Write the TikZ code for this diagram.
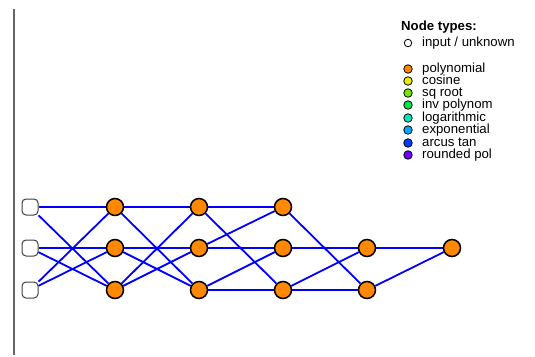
\documentclass[tikz,border=0pt]{standalone}
\usepackage{fontspec}
\setmainfont{Liberation Sans}
\usepackage{tikz}
\usetikzlibrary{backgrounds}

\definecolor{polycol}{RGB}{255,136,0}
\definecolor{coscol}{RGB}{235,235,0}
\definecolor{sqrtcol}{RGB}{120,230,0}
\definecolor{invcol}{RGB}{0,230,70}
\definecolor{logcol}{RGB}{0,230,190}
\definecolor{expcol}{RGB}{0,170,255}
\definecolor{atancol}{RGB}{0,60,255}
\definecolor{roundcol}{RGB}{110,0,255}

\begin{document}
\begin{tikzpicture}[x=1pt, y=-1pt,
        inp/.style={draw=black!75, fill=white, rounded corners=4pt, minimum size=16pt, inner sep=0pt, line width=1pt},
        poly/.style={draw, circle, fill=polycol, minimum size=17pt, inner sep=0pt, line width=1.5pt},
        link/.style={blue, line width=1.8pt},
        key/.style={draw, circle, minimum size=8.5pt, inner sep=0pt, line width=0.8pt},
        keytext/.style={anchor=west, inner sep=0pt, text height=8pt, text depth=1.5pt, font=\fontsize{13.2}{14}\selectfont}]
    \useasboundingbox (0,0) rectangle (535,356);
    \draw[black!60, line width=1.3pt] (14,9) -- (14,355);

    \draw
        ( 30, 207) node[inp](in1){}
        ( 30, 248) node[inp](in2){}
        ( 30, 290) node[inp](in3){}
        (115, 207) node[poly](a1){}
        (115, 248) node[poly](a2){}
        (115, 290) node[poly](a3){}
        (199, 207) node[poly](b1){}
        (199, 248) node[poly](b2){}
        (199, 290) node[poly](b3){}
        (283, 207) node[poly](c1){}
        (283, 248) node[poly](c2){}
        (283, 290) node[poly](c3){}
        (367, 248) node[poly](d2){}
        (367, 290) node[poly](d3){}
        (452, 248) node[poly](out){}
    ;
    \begin{scope}[on background layer]
    \draw [link] (in1) edge (a1) (in1) edge (a3);
    \draw [link] (in2) edge (a2) (in2) edge (a3);
    \draw [link] (in3) edge (a1) (in3) edge (a2);
    \draw [link] (a1) edge (b1) (a1) edge (b3);
    \draw [link] (a2) edge (b2) (a2) edge (b3);
    \draw [link] (a3) edge (b1) (a3) edge (b2);
    \draw [link] (b1) edge (c1) (b1) edge (c3);
    \draw [link] (b2) edge (c1) (b2) edge (c2);
    \draw [link] (b3) edge (c2) (b3) edge (c3);
    \draw [link] (c1) edge (d3);
    \draw [link] (c2) edge (d2);
    \draw [link] (c3) edge (d2) (c3) edge (d3);
    \draw [link] (d2) edge (out) (d3) edge (out);
    \end{scope}

    % legend
    \node[keytext, font=\fontsize{13.2}{14}\selectfont\bfseries] (title) at (401, 27) {Node types:};
    \draw
        (408,  43) node[key, fill=white, minimum size=7.5pt](kin){}
        (408,  69) node[key, fill=polycol](kpoly){}
        (408,  81) node[key, fill=coscol](kcos){}
        (408,  93) node[key, fill=sqrtcol](ksqrt){}
        (408, 105) node[key, fill=invcol](kinv){}
        (408, 118) node[key, fill=logcol](klog){}
        (408, 130) node[key, fill=expcol](kexp){}
        (408, 143) node[key, fill=atancol](katan){}
        (408, 155) node[key, fill=roundcol](kround){}
    ;
    \node[keytext] at (422,  43) {input / unknown};
    \node[keytext] at (422,  69) {polynomial};
    \node[keytext] at (422,  81) {cosine};
    \node[keytext] at (422,  93) {sq root};
    \node[keytext] at (422, 105) {inv polynom};
    \node[keytext] at (422, 118) {logarithmic};
    \node[keytext] at (422, 130) {exponential};
    \node[keytext] at (422, 143) {arcus tan};
    \node[keytext] at (422, 155) {rounded pol};
\end{tikzpicture}
\end{document}
